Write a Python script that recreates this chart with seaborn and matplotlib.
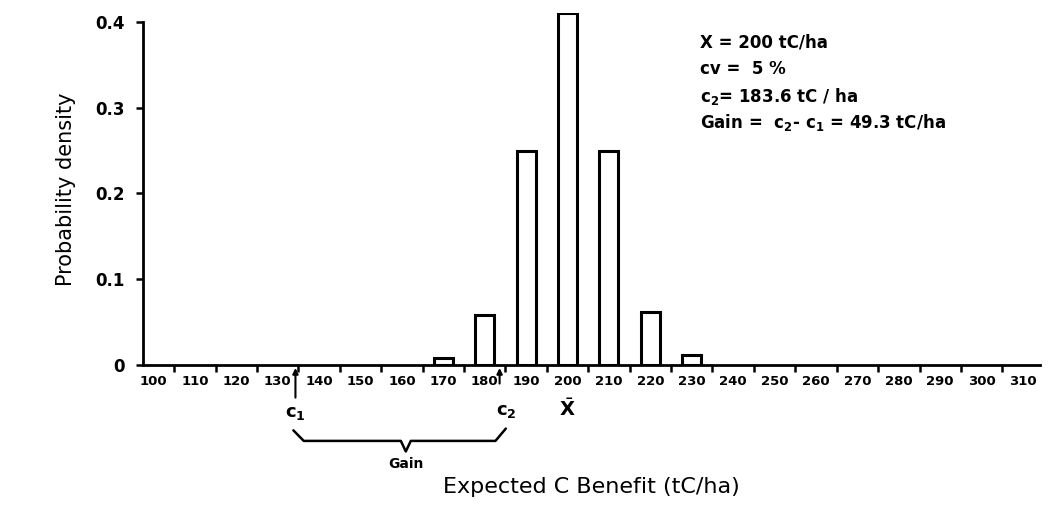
import matplotlib
matplotlib.use("Agg")
import matplotlib.pyplot as plt
import seaborn as sns
import pandas as pd
import numpy as np

# Data
bin_centers = [170, 180, 190, 200, 210, 220, 230]
densities = [0.008, 0.058, 0.25, 0.41, 0.25, 0.062, 0.012]
x_tick_labels = list(range(100, 320, 10))
y_ticks = [0, 0.1, 0.2, 0.3, 0.4]
y_tick_labels = ["0", "0.1", "0.2", "0.3", "0.4"]
c1 = 134.3
c2 = 183.6
x_mean = 200

sns.set_theme(style="white")
plt.rcParams['font.family'] = ['DejaVu Sans']
plt.rcParams['text.color'] = 'black'
plt.rcParams['axes.labelcolor'] = 'black'
plt.rcParams['xtick.color'] = 'black'
plt.rcParams['ytick.color'] = 'black'

fig = plt.figure(figsize=(10.48, 5.27), dpi=100)
ax = fig.add_axes([0.1365, 0.307, 0.8555, 0.668])

df = pd.DataFrame({"x": bin_centers, "density": densities})
sns.barplot(data=df, x="x", y="density", native_scale=True, width=0.46,
            color="white", edgecolor="black", linewidth=2.2, ax=ax)

ax.set_xlim(97.5, 314)
ax.set_ylim(0, 0.41)
for s in ["top", "right"]:
    ax.spines[s].set_visible(False)
for s in ["left", "bottom"]:
    ax.spines[s].set_color("black")
    ax.spines[s].set_linewidth(2)
ax.spines["left"].set_bounds(0, 0.4)

ax.set_xticks(x_tick_labels)
ax.set_xticklabels([str(v) for v in x_tick_labels], fontsize=9.5, fontweight="bold")
ax.set_xticks([v + 5 for v in x_tick_labels[:-1]], minor=True)
ax.tick_params(axis="x", which="major", length=0, pad=7)
ax.tick_params(axis="x", which="minor", length=5, width=1.8, color="black", direction="out", bottom=True)
ax.set_yticks(y_ticks)
ax.set_yticklabels(y_tick_labels, fontsize=12, fontweight="bold")
ax.tick_params(axis="y", length=5, width=1.8, color="black", direction="out", left=True, pad=8)

ax.set_xlabel("Expected C Benefit (tC/ha)", fontsize=16, labelpad=64)
ax.set_ylabel("Probability density", fontsize=15, labelpad=14)

tr = ax.get_xaxis_transform()
# c1 and c2 arrows
ax.annotate("", xy=(c1, 0.0), xytext=(c1, -0.1), xycoords=tr, textcoords=tr,
            arrowprops=dict(arrowstyle="-|>", color="black", lw=1.5, mutation_scale=8),
            annotation_clip=False)
ax.annotate("", xy=(c2, 0.0), xytext=(c2, -0.06), xycoords=tr, textcoords=tr,
            arrowprops=dict(arrowstyle="-|>", color="black", lw=1.5, mutation_scale=8),
            annotation_clip=False)
ax.text(c1, -0.135, r"$\mathbf{c}_\mathbf{1}$", transform=tr, ha="center", va="center", fontsize=13)
ax.text(c2 + 1.5, -0.13, r"$\mathbf{c}_\mathbf{2}$", transform=tr, ha="center", va="center", fontsize=13)
ax.text(x_mean, -0.125, r"$\bar{\mathbf{X}}$", transform=tr, ha="center", va="center", fontsize=14)

# Brace for gain
mid = (c1 + c2) / 2 + 2
bx = [c1 - 0.5, c1 + 2, mid - 1.2, mid, mid + 1.2, c2 - 1, c2 + 1.5]
by = [-0.185, -0.215, -0.215, -0.245, -0.215, -0.215, -0.18]
ax.plot(bx, by, transform=tr, color="black", lw=1.8, clip_on=False)
ax.text(mid, -0.28, "Gain", transform=tr, ha="center", va="center", fontsize=10, fontweight="bold")

# Info text block
tx, fs = 232, 12
ax.text(tx, 0.3756, "X = 200 tC/ha", fontsize=fs, fontweight="bold", va="center")
ax.text(tx, 0.345, "cv =  5 %", fontsize=fs, fontweight="bold", va="center")
ax.text(tx, 0.3128, r"c$_\mathbf{2}$= 183.6 tC / ha", fontsize=fs, fontweight="bold", va="center")
ax.text(tx, 0.2826, r"Gain =  c$_\mathbf{2}$- c$_\mathbf{1}$ = 49.3 tC/ha", fontsize=fs, fontweight="bold", va="center")

fig.savefig("out.png", dpi=100)
